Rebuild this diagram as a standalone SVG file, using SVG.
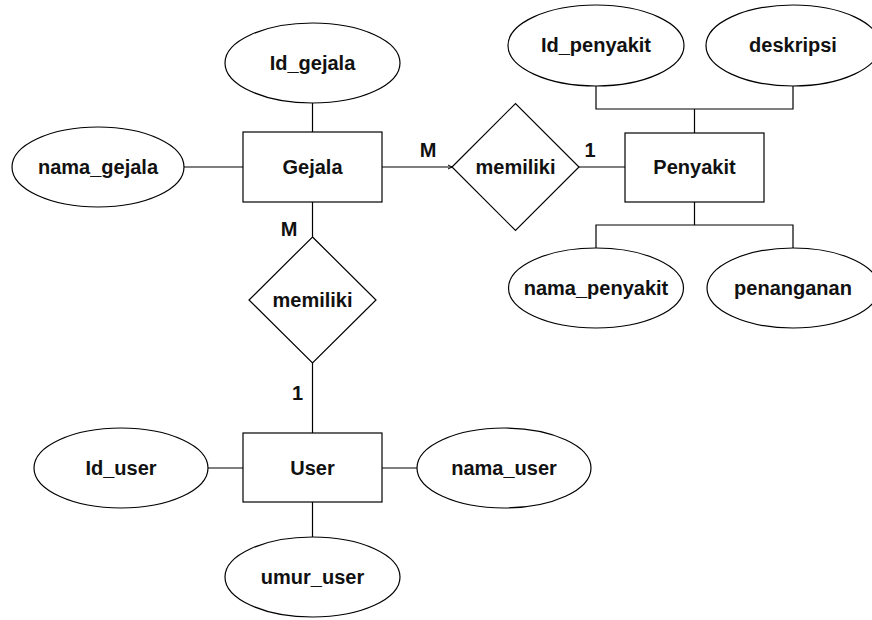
<svg xmlns="http://www.w3.org/2000/svg" width="872" height="620" viewBox="0 0 872 620">
<defs>
<style>
.s{fill:#fff;stroke:#000;stroke-width:1.2}
.t{font-family:"Liberation Sans",Arial,sans-serif;font-weight:bold;font-size:20px;fill:#111;text-anchor:middle}
.c{fill:none;stroke:#000;stroke-width:1.2}
</style>
<marker id="tick" viewBox="0 0 6 6" refX="6" refY="3" markerWidth="6" markerHeight="6" orient="auto" markerUnits="userSpaceOnUse">
<path d="M2,1 L6,3 L2,5" fill="none" stroke="#000" stroke-width="1"/>
</marker>
</defs>
<rect width="872" height="620" fill="#fff"/>
<g id="connectors">
<line class="c" x1="312.5" y1="103" x2="312.5" y2="132"/>
<line class="c" x1="184" y1="167" x2="243" y2="167"/>
<line class="c" x1="382" y1="167" x2="452" y2="167" marker-end="url(#tick)"/>
<line class="c" x1="579" y1="167" x2="625" y2="167"/>
<line class="c" x1="312.5" y1="202" x2="312.5" y2="237"/>
<line class="c" x1="312.5" y1="363" x2="312.5" y2="433"/>
<line class="c" x1="208" y1="468" x2="243" y2="468"/>
<line class="c" x1="382" y1="468" x2="417" y2="468"/>
<line class="c" x1="312.5" y1="502" x2="312.5" y2="537"/>
<polyline class="c" points="596,86 596,109 793,109 793,86"/>
<line class="c" x1="694.5" y1="109" x2="694.5" y2="133"/>
<line class="c" x1="694.5" y1="202" x2="694.5" y2="225"/>
<polyline class="c" points="596,248 596,225 793,225 793,248"/>
<text class="t" x="428" y="157">M</text>
<text class="t" x="590" y="157">1</text>
<text class="t" x="289" y="236">M</text>
<text class="t" x="297.5" y="400">1</text>
</g>
<g id="Gejala"><rect class="s" x="243" y="132" width="139" height="70"/><text class="t" x="312.5" y="174">Gejala</text></g>
<g id="Id_gejala"><ellipse class="s" cx="312.5" cy="63" rx="87.5" ry="40"/><text class="t" x="312.5" y="70">Id_gejala</text></g>
<g id="nama_gejala"><ellipse class="s" cx="98" cy="167" rx="86" ry="40"/><text class="t" x="98" y="174">nama_gejala</text></g>
<g id="memiliki1"><polygon class="s" points="452,167 515.5,103.5 579,167 515.5,230.5"/><text class="t" x="515.5" y="174">memiliki</text></g>
<g id="Penyakit"><rect class="s" x="625" y="133" width="139" height="69"/><text class="t" x="694.5" y="174">Penyakit</text></g>
<g id="Id_penyakit"><ellipse class="s" cx="596" cy="45.5" rx="88" ry="40.5"/><text class="t" x="596" y="52">Id_penyakit</text></g>
<g id="deskripsi"><ellipse class="s" cx="793" cy="45.5" rx="87" ry="40.5"/><text class="t" x="793" y="52">deskripsi</text></g>
<g id="nama_penyakit"><ellipse class="s" cx="596" cy="288" rx="87.5" ry="40"/><text class="t" x="596" y="295">nama_penyakit</text></g>
<g id="penanganan"><ellipse class="s" cx="793" cy="288" rx="86" ry="40"/><text class="t" x="793" y="295">penanganan</text></g>
<g id="memiliki2"><polygon class="s" points="312.5,237 376,300 312.5,363 249,300"/><text class="t" x="312.5" y="307">memiliki</text></g>
<g id="User"><rect class="s" x="243" y="433" width="139" height="69"/><text class="t" x="312.5" y="475">User</text></g>
<g id="Id_user"><ellipse class="s" cx="121" cy="468" rx="87" ry="40"/><text class="t" x="121" y="475">Id_user</text></g>
<g id="nama_user"><ellipse class="s" cx="504" cy="468" rx="87" ry="40"/><text class="t" x="504" y="475">nama_user</text></g>
<g id="umur_user"><ellipse class="s" cx="312.5" cy="577" rx="87.5" ry="40"/><text class="t" x="312.5" y="584">umur_user</text></g>
</svg>
